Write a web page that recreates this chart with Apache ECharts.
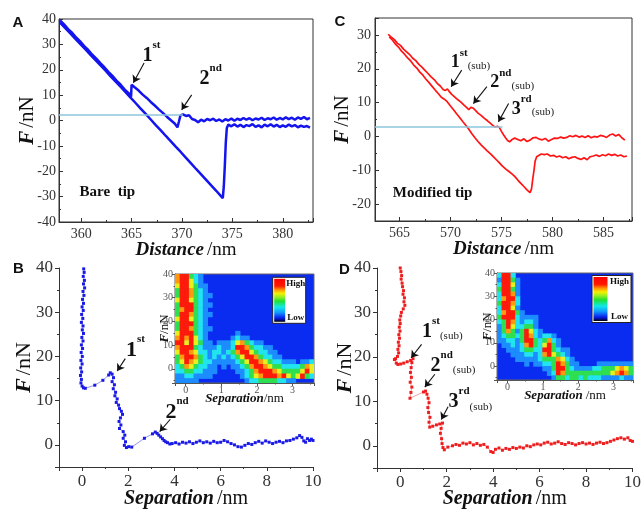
<!DOCTYPE html>
<html><head><meta charset="utf-8">
<script src="https://cdn.jsdelivr.net/npm/echarts@6/dist/echarts.min.js"></script>
<style>html,body{margin:0;padding:0;background:#fff}#c{width:644px;height:510px}</style>
</head><body><div id="c"></div>
<script>
const SERIF = "'Liberation Serif','Times New Roman',serif";
const SANS = "'Liberation Sans',Arial,sans-serif";

// ---------- Panel A (bare tip) force-distance traces [distance nm, force nN]
const aTraceUpper = [[357.9,39.5],[358.3,37.9],[358.7,36.0],[359.1,34.6],[359.5,32.7],[359.9,31.2],[360.3,29.3],[360.7,27.8],[361.1,25.9],[361.5,24.4],[361.9,22.6],[362.3,21.0],[362.7,19.2],[363.1,17.6],[363.5,15.7],[363.9,14.2],[364.3,12.3],[364.7,10.8],[364.95,9.4],[365.0,14.1],[365.3,13.1],[365.7,11.8],[366.1,10.2],[366.5,8.9],[366.9,7.3],[367.3,5.9],[367.7,4.4],[368.1,3.0],[368.5,1.5],[368.9,0.1],[369.3,-1.3],[369.55,-2.7],[369.7,-0.4],[369.85,2.0],[370.1,2.4],[370.4,1.8],[370.7,2.1],[371.0,0.6],[371.3,0.2],[371.6,-0.7],[371.9,0.3],[372.2,-0.3],[372.5,0.6],[372.8,0.1],[373.1,0.7],[373.4,-0.2],[373.7,0.4],[374.0,-0.4],[374.3,0.5],[374.6,0.0],[374.9,0.8],[375.2,-0.1],[375.5,0.7],[375.8,0.2],[376.1,1.0],[376.4,0.3],[376.7,0.9],[377.0,0.1],[377.3,0.8],[377.6,0.4],[377.9,1.1],[378.2,0.2],[378.5,0.9],[378.8,0.5],[379.1,1.2],[379.4,0.3],[379.7,1.0],[380.0,0.4],[380.3,1.3],[380.6,0.5],[380.9,1.1],[381.2,0.3],[381.5,1.2],[381.8,0.6],[382.1,1.4],[382.4,0.5],[382.7,1.0]];
const aTraceLower = [[357.9,38.6],[358.4,36.5],[358.9,34.4],[359.4,32.3],[359.9,30.2],[360.4,28.1],[360.9,26.0],[361.4,23.9],[361.9,21.8],[362.4,19.7],[362.9,17.5],[363.4,15.4],[363.9,13.3],[364.4,11.2],[364.9,9.0],[365.4,6.9],[365.9,4.7],[366.4,2.6],[366.9,0.4],[367.4,-1.8],[367.9,-3.9],[368.4,-6.1],[368.9,-8.2],[369.4,-10.4],[369.9,-12.5],[370.4,-14.7],[370.9,-16.9],[371.4,-19.1],[371.9,-21.2],[372.4,-23.4],[372.9,-25.6],[373.4,-27.7],[373.8,-29.5],[374.05,-30.6],[374.15,-26.0],[374.25,-18.0],[374.35,-8.5],[374.45,-3.0],[374.6,-1.6],[374.9,-2.3],[375.2,-1.5],[375.5,-2.4],[375.8,-1.7],[376.1,-2.6],[376.4,-1.8],[376.7,-2.2],[377.0,-1.4],[377.3,-2.5],[377.6,-1.9],[377.9,-2.7],[378.2,-1.6],[378.5,-2.3],[378.8,-1.5],[379.1,-2.4],[379.4,-1.7],[379.7,-2.6],[380.0,-1.9],[380.3,-2.5],[380.6,-1.6],[380.9,-2.3],[381.2,-1.8],[381.5,-2.7],[381.8,-2.0],[382.1,-2.5],[382.4,-2.2],[382.7,-2.8]];

// ---------- Panel C (modified tip)
const cTraceUpper = [[563.9,30.2],[564.2,29.3],[564.5,28.6],[564.8,27.5],[565.1,26.9],[565.4,25.8],[565.7,25.0],[566.0,24.2],[566.3,23.1],[566.6,22.4],[566.9,21.3],[567.2,20.5],[567.5,19.5],[567.8,18.6],[568.1,17.6],[568.4,16.8],[568.7,15.7],[569.0,14.9],[569.3,13.8],[569.5,13.6],[569.7,14.0],[569.85,13.4],[570.1,12.5],[570.4,11.7],[570.7,10.9],[571.0,10.2],[571.3,9.3],[571.6,8.5],[571.8,7.9],[572.0,8.6],[572.2,8.4],[572.45,7.7],[572.7,6.9],[573.0,6.2],[573.3,5.4],[573.6,4.7],[573.9,3.9],[574.2,3.1],[574.4,2.8],[574.6,3.0],[574.8,2.6],[575.0,1.5],[575.2,0.5],[575.4,-0.4],[575.6,-1.2],[575.8,-1.6],[576.0,-1.0],[576.3,-0.5],[576.6,-0.9],[576.9,-1.3],[577.2,-0.7],[577.5,-1.5],[577.8,-1.1],[578.1,-0.4],[578.4,-0.3],[578.7,-0.8],[579.0,-1.0],[579.3,-0.6],[579.6,-1.4],[579.9,-0.9],[580.2,-0.5],[580.5,-0.6],[580.8,-0.2],[581.1,-0.5],[581.4,-0.3],[581.7,0.2],[582.0,-0.1],[582.3,0.3],[582.6,-0.2],[582.9,0.1],[583.2,-0.3],[583.5,0.2],[583.8,-0.4],[584.1,0.0],[584.4,-0.2],[584.7,0.3],[585.0,0.1],[585.3,-0.3],[585.6,0.4],[585.9,0.7],[586.2,0.1],[586.5,0.6],[586.8,-0.4],[587.1,-1.1]];
const cTraceLower = [[564.0,29.4],[564.3,28.5],[564.6,27.3],[564.9,26.4],[565.2,25.2],[565.5,24.3],[565.8,23.2],[566.1,22.3],[566.4,21.1],[566.7,20.2],[567.0,19.0],[567.3,18.1],[567.6,16.9],[567.9,15.9],[568.2,14.8],[568.5,13.7],[568.8,12.7],[569.1,11.6],[569.4,11.0],[569.7,10.2],[570.0,9.0],[570.3,7.9],[570.6,6.7],[570.9,5.6],[571.2,4.4],[571.5,3.3],[571.8,2.1],[572.1,0.8],[572.4,-0.4],[572.7,-1.5],[573.0,-2.5],[573.3,-3.4],[573.6,-4.3],[573.9,-5.1],[574.2,-6.0],[574.5,-6.9],[574.8,-7.8],[575.1,-8.8],[575.4,-9.6],[575.7,-10.3],[576.0,-11.0],[576.3,-11.8],[576.6,-12.9],[576.9,-13.9],[577.2,-14.8],[577.5,-15.8],[577.8,-16.6],[577.95,-15.5],[578.05,-13.0],[578.2,-9.8],[578.3,-7.3],[578.45,-6.0],[578.6,-5.6],[578.9,-5.2],[579.2,-5.4],[579.5,-5.2],[579.8,-5.8],[580.1,-5.6],[580.4,-6.1],[580.7,-5.8],[581.0,-6.3],[581.3,-6.0],[581.6,-6.6],[581.9,-6.2],[582.2,-6.0],[582.5,-6.5],[582.8,-6.8],[583.1,-6.3],[583.4,-6.9],[583.7,-6.0],[584.0,-5.8],[584.3,-5.5],[584.6,-5.9],[584.9,-5.4],[585.2,-5.7],[585.5,-5.2],[585.8,-5.6],[586.1,-5.3],[586.4,-5.8],[586.7,-5.5],[587.0,-6.0],[587.3,-5.8]];

// ---------- Panel B (bare tip, force vs separation)
const bPoints = [[0.07,39.8],[0.09,39.0],[0.05,38.1],[0.10,37.2],[0.06,36.4],[0.11,35.5],[0.04,34.7],[0.08,33.8],[0.02,32.9],[0.06,32.0],[0.00,31.2],[0.05,30.4],[-0.02,29.5],[0.03,28.6],[-0.03,27.7],[0.04,26.9],[0.01,26.0],[0.06,25.2],[-0.01,24.3],[0.04,23.5],[-0.03,22.6],[0.02,21.8],[-0.04,20.9],[0.01,20.0],[-0.05,19.1],[0.00,18.3],[-0.06,17.4],[-0.02,16.5],[-0.07,15.7],[-0.03,14.8],[-0.05,14.0],[0.00,13.3],[0.06,12.9],[0.14,12.8],[0.55,13.5],[0.9,14.6],[1.15,15.8],[1.22,16.3],[1.30,16.0],[1.36,15.2],[1.30,14.3],[1.40,13.6],[1.35,12.7],[1.45,11.9],[1.42,11.1],[1.52,10.4],[1.48,9.6],[1.58,9.0],[1.62,8.2],[1.70,7.6],[1.75,6.9],[1.66,6.1],[1.60,5.3],[1.68,4.5],[1.62,3.7],[1.78,3.0],[1.85,2.2],[1.78,1.5],[1.88,0.7],[1.83,-0.1],[1.92,-0.6],[2.02,-0.4],[2.15,-0.5],[2.7,1.5],[3.05,2.5],[3.17,2.9],[3.25,2.6],[3.32,2.2],[3.40,1.8],[3.48,1.4],[3.55,1.0],[3.62,0.7],[3.70,0.5],[3.80,0.2],[3.9,0.3],[4.05,0.5],[4.2,0.2],[4.35,0.6],[4.5,0.4],[4.65,0.7],[4.8,0.3],[4.95,0.6],[5.1,0.9],[5.25,0.5],[5.4,0.7],[5.55,0.4],[5.7,0.8],[5.85,0.5],[6.0,0.6],[6.15,1.0],[6.3,0.7],[6.45,0.3],[6.6,0.0],[6.75,-0.4],[6.9,-0.5],[7.05,-0.1],[7.2,0.3],[7.35,0.1],[7.5,0.5],[7.65,0.8],[7.8,0.4],[7.95,0.9],[8.1,0.6],[8.25,0.3],[8.4,0.6],[8.55,0.8],[8.7,0.5],[8.85,0.9],[9.0,1.0],[9.15,1.3],[9.3,1.6],[9.42,2.1],[9.52,1.7],[9.6,0.9],[9.68,0.6],[9.76,1.4],[9.85,1.0],[9.93,1.3],[10.0,1.0]];

// ---------- Panel D (modified tip, force vs separation)
const dPoints = [[0.0,40.0],[0.03,39.2],[0.06,38.3],[0.04,37.5],[0.08,36.6],[0.10,35.8],[0.14,34.9],[0.12,34.1],[0.18,33.3],[0.16,32.4],[0.20,31.6],[0.13,30.8],[0.05,30.0],[0.02,29.2],[-0.02,28.3],[0.00,27.5],[-0.04,26.7],[-0.01,25.8],[-0.06,25.0],[-0.03,24.2],[-0.08,23.3],[-0.05,22.5],[-0.10,21.7],[-0.07,20.9],[-0.12,20.1],[-0.20,19.6],[-0.25,19.4],[-0.17,18.6],[-0.10,18.3],[0.02,18.4],[0.15,18.6],[0.30,18.9],[0.45,19.2],[0.55,19.6],[0.50,18.7],[0.47,17.6],[0.44,16.5],[0.48,15.4],[0.43,14.3],[0.50,13.2],[0.46,12.0],[0.42,10.7],[1.00,12.1],[1.09,12.3],[1.15,11.6],[1.20,10.7],[1.24,9.7],[1.19,8.6],[1.22,7.5],[1.28,6.4],[1.24,5.3],[1.27,4.2],[1.40,4.4],[1.56,4.7],[1.70,4.9],[1.82,5.1],[1.76,3.9],[1.73,2.8],[1.78,1.6],[1.80,0.5],[1.84,-0.4],[1.90,-0.9],[2.05,-0.3],[2.25,0.0],[2.4,0.3],[2.55,0.1],[2.7,0.6],[2.85,0.4],[3.0,0.7],[3.15,0.2],[3.3,0.5],[3.45,0.1],[3.6,0.3],[3.75,-0.3],[3.9,-1.3],[4.0,-1.5],[4.1,-0.8],[4.25,-0.5],[4.4,-1.0],[4.55,-0.6],[4.7,-0.8],[4.85,-0.4],[5.0,-0.6],[5.15,-0.3],[5.3,-0.5],[5.45,0.0],[5.6,-0.2],[5.75,0.2],[5.9,0.4],[6.05,0.2],[6.2,0.6],[6.35,0.8],[6.5,0.4],[6.65,0.6],[6.8,0.9],[6.95,0.5],[7.1,0.3],[7.25,0.7],[7.4,0.5],[7.55,0.2],[7.7,0.5],[7.85,0.7],[8.0,0.4],[8.15,0.6],[8.3,0.3],[8.45,0.6],[8.6,0.8],[8.75,0.5],[8.9,0.7],[9.05,1.0],[9.2,1.3],[9.35,1.6],[9.5,1.8],[9.65,1.5],[9.8,1.8],[9.9,1.2],[10.0,1.0]];

// ---------- Inset density maps: one string per 2 nN row (top = 40 nN), one digit per separation bin (0 = background ... 6 = high)
const bHeatRows = ["566321","566421","4664311","3665321","36653211","4664321","36663211","3566321","36653211","4664321","3666321","36653211","46663210000001","5656421000001211","6646431101112453211","566632111211266532211","4665422122123566432211","35665321212123466532211","346543221111123466543221110112","235432211010112356654332222354","223322111000011235666543333464","112211110000001234566656434632","111110000000000122333322110000"];
const dHeatRows = ["26620","16631","26641","36631","26651","25662","36652","26641","256631","366621111","236521221","136422331","1353136421","1233236521221","11221366323521","01121256324631","0011123322663211","0001112212564321","00001111123335421","000000101122365311000011111111","000000000011366321111223334543","000000000001265333333333345653","000000000000133233232221111211"];
const heatColors = ['#0a2cf0','#1c8cff','#22e4ee','#2ee050','#e6f01e','#ff9a10','#ff1a0a'];

// ---------- helpers
function buildHeat(rows, x0, dx, yTop, dy) {
  const out = [];
  rows.forEach((row, r) => {
    const s = row.padEnd(30, '0');
    for (let c = 0; c < 30; c++) {
      const lv = +s[c];
      if (lv > 0) out.push([x0 + dx * (c + 0.5), yTop - dy * (r + 0.5), lv]);
    }
  });
  return out;
}
function cellRenderer(dx, dy) {
  return function (params, api) {
    const p = api.coord([api.value(0), api.value(1)]);
    const s = api.size([dx, dy]);
    return {type: 'rect', shape: {x: p[0] - s[0] / 2, y: p[1] - s[1] / 2, width: s[0] + 0.6, height: s[1] + 0.6},
            style: {fill: heatColors[api.value(2)]}};
  };
}
function nameRich(size) {
  return {b: {fontFamily: SERIF, fontWeight: 'bold', fontStyle: 'italic', fontSize: size, color: '#111'},
          r: {fontFamily: SERIF, fontSize: size, color: '#111'}};
}
function annRich(size) {
  return {
    n: {fontFamily: SERIF, fontWeight: 'bold', fontSize: size, color: '#111', lineHeight: size + 6, verticalAlign: 'bottom'},
    s: {fontFamily: SERIF, fontWeight: 'bold', fontSize: 11, color: '#111', lineHeight: 12, verticalAlign: 'top'},
    u: {fontFamily: SERIF, fontSize: 11, color: '#222', lineHeight: 13, verticalAlign: 'bottom'},
    t: {fontFamily: SERIF, fontWeight: 'bold', fontSize: 15, color: '#111'}
  };
}
function axis(gridIndex, min, max, opts) {
  const o = Object.assign({fs: 14, inside: true, showMin: false, showMax: false, margin: 4, color: '#333', tickLen: 4}, opts);
  return {
    gridIndex, type: 'value', min, max,
    axisLine: {show: true, onZero: false, lineStyle: {color: o.color, width: 1}},
    axisTick: {show: true, inside: o.inside, length: o.tickLen, lineStyle: {color: o.color}},
    minorTick: {show: true, splitNumber: 2, length: o.tickLen / 2, lineStyle: {color: o.color}},
    axisLabel: {fontFamily: SERIF, fontSize: o.fs, color: o.color, showMinLabel: o.showMin, showMaxLabel: o.showMax, margin: o.margin},
    splitLine: {show: false}, minorSplitLine: {show: false},
    name: o.name, nameLocation: 'middle', nameGap: o.nameGap, nameMoveOverlap: false,
    nameTextStyle: {rich: nameRich(o.nameSize || 20)}
  };
}
function arrows(pairs) {
  return {silent: true, animation: false, symbol: ['none', 'arrow'], symbolSize: 7,
          lineStyle: {color: '#111', width: 1.1, type: 'solid'}, label: {show: false},
          data: pairs.map(p => [{coord: p[0]}, {coord: p[1]}])};
}
function baseline(from, to) {
  return {silent: true, animation: false, symbol: 'none',
          lineStyle: {color: '#8cc6dc', width: 1.5, type: 'solid'}, label: {show: false},
          data: [[{coord: from}, {coord: to}]]};
}
function labels(size, items) {
  return {silent: true, animation: false, symbol: 'circle', symbolSize: 1,
          itemStyle: {color: 'rgba(0,0,0,0)'},
          label: {show: true, position: 'inside', color: '#111', rich: annRich(size)},
          data: items.map(it => ({coord: it[0], label: {formatter: it[1]}}))};
}
const legendGradient = {type: 'linear', x: 0, y: 0, x2: 0, y2: 1, colorStops: [
  {offset: 0, color: '#ff0000'}, {offset: 0.17, color: '#ff1a00'}, {offset: 0.26, color: '#ff9a00'},
  {offset: 0.34, color: '#f4f000'}, {offset: 0.42, color: '#9ef020'}, {offset: 0.52, color: '#20e030'},
  {offset: 0.66, color: '#10e8e8'}, {offset: 0.78, color: '#109cff'}, {offset: 0.9, color: '#0a28f0'},
  {offset: 0.95, color: '#0010a0'}, {offset: 1, color: '#000000'}]};
function heatLegend(x, y, w, h, barW) {
  const tf = {fontFamily: SERIF, fontWeight: 'bold', fontSize: 9, fill: '#111', align: 'center', verticalAlign: 'middle'};
  return {type: 'group', x, y, z: 100, children: [
    {type: 'rect', shape: {x: 0, y: 0, width: w, height: h}, style: {fill: '#fff', stroke: '#222', lineWidth: 1}},
    {type: 'rect', shape: {x: 1.5, y: 1.5, width: barW, height: h - 3}, style: {fill: legendGradient}},
    {type: 'text', x: barW + (w - barW) / 2 + 1, y: 6, style: Object.assign({text: 'High'}, tf)},
    {type: 'text', x: barW + (w - barW) / 2 + 1, y: h - 6, style: Object.assign({text: 'Low'}, tf)}
  ]};
}
function letter(t, x, y) {
  return {type: 'text', x, y, z: 100, style: {text: t, fontFamily: SANS, fontWeight: 'bold', fontSize: 15, fill: '#111', align: 'center', verticalAlign: 'middle'}};
}

const chart = echarts.init(document.getElementById('c'), null, {renderer: 'canvas'});
chart.setOption({
  animation: false,
  backgroundColor: '#ffffff',
  textStyle: {fontFamily: SERIF},
  grid: [
    {left: 59, top: 19, width: 254, height: 203, show: true, borderColor: '#333', borderWidth: 1},
    {left: 375, top: 18, width: 257, height: 203, show: true, borderColor: '#333', borderWidth: 1},
    {left: 59, top: 268, width: 254, height: 202},
    {left: 377, top: 268, width: 258, height: 204},
    {left: 175, top: 274, width: 139, height: 109, show: true, borderColor: '#666', borderWidth: 1, backgroundColor: heatColors[0]},
    {left: 497, top: 273, width: 136, height: 107, show: true, borderColor: '#666', borderWidth: 1, backgroundColor: heatColors[0]}
  ],
  xAxis: [
    axis(0, 357.8, 383, {name: '{b|Distance} {r|/nm}', nameGap: 19, nameSize: 19, margin: 5}),
    axis(1, 562.6, 587.8, {name: '{b|Distance} {r|/nm}', nameGap: 19, nameSize: 19, margin: 5}),
    axis(2, -1, 10, {fs: 17, inside: false, showMax: true, name: '{b|Separation} {r|/nm}', nameGap: 22, nameSize: 20, margin: 6}),
    axis(3, -1, 10, {fs: 17, inside: false, showMax: true, name: '{b|Separation} {r|/nm}', nameGap: 21, nameSize: 20, margin: 6}),
    axis(4, -0.3, 3.6, {fs: 10, inside: false, color: '#555', tickLen: 3, margin: 2, name: '{b|Separation}{r|/nm}', nameGap: 9, nameSize: 13}),
    axis(5, -0.3, 3.55, {fs: 10, inside: false, color: '#555', tickLen: 3, margin: 2, name: '{b|Separation} {r|/nm}', nameGap: 9, nameSize: 13})
  ],
  yAxis: [
    Object.assign(axis(0, -40, 40, {showMin: true, showMax: true, name: '{b|F} {r|/nN}', nameGap: 21, nameSize: 21, margin: 3}), {interval: 10}),
    axis(1, -25, 35, {name: '{b|F} {r|/nN}', nameGap: 22, nameSize: 21, margin: 4}),
    axis(2, -5, 40, {fs: 17, inside: false, showMax: true, name: '{b|F} {r|/nN}', nameGap: 24, nameSize: 22, margin: 6}),
    axis(3, -5, 40, {fs: 17, inside: false, showMax: true, name: '{b|F} {r|/nN}', nameGap: 21, nameSize: 22, margin: 6}),
    axis(4, -6, 40, {fs: 10, inside: false, showMax: true, color: '#555', tickLen: 3, margin: 2, name: '{b|F}{r|/nN}', nameGap: 4, nameSize: 13}),
    axis(5, -6, 40, {fs: 10, inside: false, showMax: true, color: '#555', tickLen: 3, margin: 2, name: '{b|F}{r|/nN}', nameGap: 3, nameSize: 13})
  ],
  series: [
    {type: 'line', xAxisIndex: 0, yAxisIndex: 0, data: aTraceLower, showSymbol: false, silent: true,
     lineStyle: {color: '#1414ee', width: 2.5}, markLine: baseline([357.8, 2.2], [370.1, 2.2])},
    {type: 'line', xAxisIndex: 0, yAxisIndex: 0, data: aTraceUpper, showSymbol: false, silent: true,
     lineStyle: {color: '#1414ee', width: 2.5},
     markLine: arrows([[[366.24, 22.7], [365.18, 14.9]], [[370.96, 10.1], [369.97, 4.2]]]),
     markPoint: labels(20, [[[366.98, 26.6], '{n|1}{s|st}'], [[372.85, 17.6], '{n|2}{s|nd}'], [[362.6, -28.3], '{t|Bare  tip}']])},
    {type: 'line', xAxisIndex: 1, yAxisIndex: 1, data: cTraceLower, showSymbol: false, silent: true,
     lineStyle: {color: '#ff1414', width: 1.7}, markLine: baseline([562.6, 3.0], [575.1, 3.0])},
    {type: 'line', xAxisIndex: 1, yAxisIndex: 1, data: cTraceUpper, showSymbol: false, silent: true,
     lineStyle: {color: '#ff1414', width: 1.7},
     markLine: arrows([[[571.1, 19.6], [570.07, 14.7]], [[573.57, 14.7], [572.25, 9.7]], [[575.7, 9.7], [574.7, 4.3]]]),
     markPoint: labels(18, [[[571.96, 22.8], '{n|1}{s|st}{u|(sub)}'], [[576.05, 16.9], '{n|2}{s|nd}{u|(sub)}'],
                            [[578.09, 9.0], '{n|3}{s|rd}{u|(sub)}'], [[568.25, -16.7], '{t|Modified tip}']])},
    {type: 'line', xAxisIndex: 2, yAxisIndex: 2, data: bPoints, symbol: 'rect', symbolSize: 3, showAllSymbol: true, silent: true,
     itemStyle: {color: '#1a1ae6'}, lineStyle: {color: '#7a7af0', width: 0.8},
     markLine: arrows([[[1.87, 19.5], [1.52, 16.7]], [[3.82, 5.8], [3.36, 3.0]]]),
     markPoint: labels(22, [[[2.31, 22.0], '{n|1}{s|st}'], [[4.11, 8.0], '{n|2}{s|nd}']])},
    {type: 'line', xAxisIndex: 3, yAxisIndex: 3, data: dPoints, symbol: 'rect', symbolSize: 3, showAllSymbol: true, silent: true,
     itemStyle: {color: '#ee1e1e'}, lineStyle: {color: '#f08a8a', width: 0.8},
     markLine: arrows([[[0.92, 22.8], [0.47, 19.8]], [[1.49, 16.1], [1.06, 13.2]], [[2.06, 8.8], [1.77, 5.9]]]),
     markPoint: labels(20, [[[1.81, 26.3], '{n|1}{s|st}{u|(sub)}'], [[2.27, 18.7], '{n|2}{s|nd}{u|(sub)}'], [[3.02, 10.5], '{n|3}{s|rd}{u|(sub)}']])},
    {type: 'custom', xAxisIndex: 4, yAxisIndex: 4, clip: true, silent: true,
     data: buildHeat(bHeatRows, -0.3, 0.13, 40, 2), renderItem: cellRenderer(0.13, 2)},
    {type: 'custom', xAxisIndex: 5, yAxisIndex: 5, clip: true, silent: true,
     data: buildHeat(dHeatRows, -0.3, 3.85 / 30, 40, 2), renderItem: cellRenderer(3.85 / 30, 2)}
  ],
  graphic: [
    letter('A', 18, 23), letter('C', 340, 22), letter('B', 18.5, 269), letter('D', 344.5, 269.5),
    heatLegend(272.7, 277.3, 33, 46, 11),
    heatLegend(592, 275.5, 39, 47, 14)
  ]
});
</script></body></html>
